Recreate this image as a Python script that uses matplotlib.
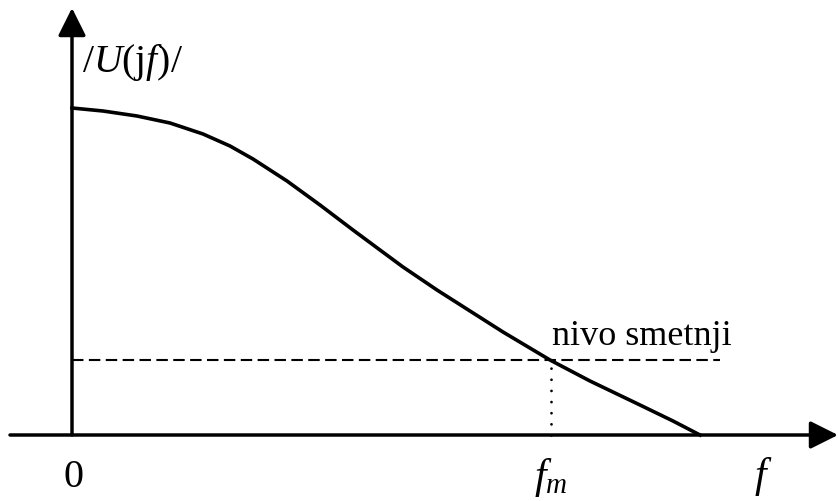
import matplotlib
matplotlib.use('Agg')
import matplotlib.pyplot as plt

plt.rcParams['font.family'] = 'Liberation Serif'
plt.rcParams['mathtext.fontset'] = 'custom'
plt.rcParams['mathtext.rm'] = 'Liberation Serif'
plt.rcParams['mathtext.it'] = 'Liberation Serif:italic'

# spectrum magnitude |U(jf)| (arbitrary units, origin at axis crossing)
f = [0, 31, 65, 98, 131, 158, 181, 215, 248, 281, 308, 331, 365, 398, 431,
     478, 518, 568, 601, 628]
U = [327, 324, 319, 312, 301, 289, 276, 254, 230, 205, 185, 168, 145, 124, 103,
     75, 54, 30, 14, 0]

noise_level = 75   # "nivo smetnji"
f_m = 479          # crossing frequency
noise_end = 648

fig = plt.figure(figsize=(8.38, 5.02), dpi=100)
ax = fig.add_axes([0, 0, 1, 1])
ax.set_xlim(-72, 766)
ax.set_ylim(-66, 436)
ax.axis('off')

# axes with arrows
arrow = dict(arrowstyle='-|>,head_length=1.7,head_width=0.85',
             lw=2.5, color='black', shrinkA=0, shrinkB=0)
ax.annotate('', xy=(766, 0), xytext=(-62, 0), arrowprops=arrow)
ax.annotate('', xy=(0, 427), xytext=(0, 0), arrowprops=arrow)

# curve
ax.plot(f, U, color='black', lw=2.6, solid_joinstyle='round')

# noise level and f_m marker
ax.plot([0, noise_end], [noise_level, noise_level], color='black', lw=1.5,
        dashes=(5.5, 2.6))
ax.plot([f_m, f_m], [0, noise_level], color='black', lw=2.0,
        dashes=(0.01, 4.0), dash_capstyle='round')

ax.text(480, 91, 'nivo smetnji', fontsize=26, ha='left', va='baseline')
ax.text(10, 364, r'$\mathrm{/}U\mathrm{(j}f\mathrm{)/}$', fontsize=28.5,
        ha='left', va='baseline')
ax.text(1, -51, '0', fontsize=29, ha='center', va='baseline')
ax.text(f_m, -52, r'$f_m$', fontsize=30, ha='center', va='baseline')
ax.text(691, -51, r'$f$', fontsize=30, ha='center', va='baseline')

fig.savefig('out.png', dpi=100)
